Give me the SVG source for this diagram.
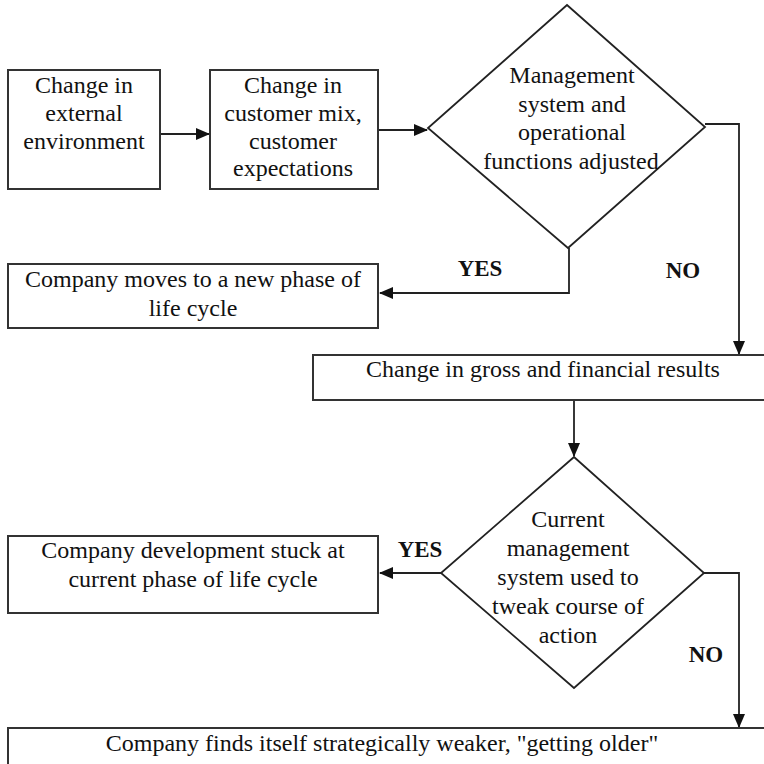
<svg xmlns="http://www.w3.org/2000/svg" width="764" height="764" viewBox="0 0 764 764">
<style>
.box{fill:#fff;stroke:#333;stroke-width:2}
.t{font-family:'Liberation Serif','Times New Roman','DejaVu Serif',serif;font-size:24px;fill:#111;text-anchor:middle}
.lb{font-family:'Liberation Serif','Times New Roman','DejaVu Serif',serif;font-size:23px;font-weight:bold;fill:#111;text-anchor:middle}
.c{fill:none;stroke:#222;stroke-width:1.8}
</style>
<defs>
<marker id="ah" markerWidth="14" markerHeight="12" refX="13" refY="6" orient="auto" markerUnits="userSpaceOnUse">
<path d="M0,0 L14,6 L0,12 Z" fill="#111"/>
</marker>
</defs>
<rect width="764" height="764" fill="#fff"/>
<g id="connectors">
<path class="c" d="M161,134 H209" marker-end="url(#ah)"/>
<path class="c" d="M379,130 H427" marker-end="url(#ah)"/>
<path class="c" d="M569,248 V293 H380" marker-end="url(#ah)"/>
<path class="c" d="M705,124 H739 V354" marker-end="url(#ah)"/>
<path class="c" d="M574,400 V456" marker-end="url(#ah)"/>
<path class="c" d="M441,573 H380" marker-end="url(#ah)"/>
<path class="c" d="M704,573 H739 V727" marker-end="url(#ah)"/>
</g>
<g id="labels">
<text class="lb" x="480" y="276">YES</text>
<text class="lb" x="683" y="278">NO</text>
<text class="lb" x="420" y="557">YES</text>
<text class="lb" x="706" y="662">NO</text>
</g>
<g id="n1">
<rect class="box" x="8" y="70" width="152" height="119"/>
<text class="t" x="84" y="93">Change in</text>
<text class="t" x="84" y="121">external</text>
<text class="t" x="84" y="149">environment</text>
</g>
<g id="n2">
<rect class="box" x="210" y="70" width="168" height="119"/>
<text class="t" x="293" y="93">Change in</text>
<text class="t" x="293" y="121">customer mix,</text>
<text class="t" x="293" y="149">customer</text>
<text class="t" x="293" y="176">expectations</text>
</g>
<g id="d1">
<polygon points="567,5 705,127 568,248 428,128" fill="#fff" stroke="#222" stroke-width="1.8"/>
<text class="t" x="572" y="83">Management</text>
<text class="t" x="572" y="112">system and</text>
<text class="t" x="572" y="140">operational</text>
<text class="t" x="571" y="169">functions adjusted</text>
</g>
<g id="n3">
<rect class="box" x="8" y="264" width="370" height="64"/>
<text class="t" x="193" y="287">Company moves to a new phase of</text>
<text class="t" x="193" y="316">life cycle</text>
</g>
<g id="n4">
<rect class="box" x="313" y="355" width="460" height="45"/>
<text class="t" x="543" y="377">Change in gross and financial results</text>
</g>
<g id="d2">
<polygon points="574,457 704,573 574,688 441,573" fill="#fff" stroke="#222" stroke-width="1.8"/>
<text class="t" x="568" y="527">Current</text>
<text class="t" x="568" y="556">management</text>
<text class="t" x="568" y="585">system used to</text>
<text class="t" x="568" y="614">tweak course of</text>
<text class="t" x="568" y="643">action</text>
</g>
<g id="n5">
<rect class="box" x="8" y="536" width="370" height="77"/>
<text class="t" x="193" y="558">Company development stuck at</text>
<text class="t" x="193" y="587">current phase of life cycle</text>
</g>
<g id="n6">
<rect class="box" x="8" y="728" width="770" height="50"/>
<text class="t" x="382" y="751">Company finds itself strategically weaker, "getting older"</text>
</g>
</svg>
